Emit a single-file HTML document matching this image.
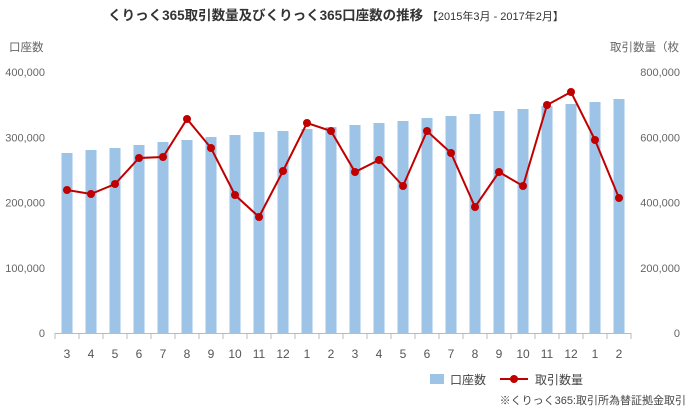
<!DOCTYPE html>
<html><head><meta charset="utf-8"><style>
body{margin:0;background:#fff;}
svg{display:block;font-family:"Liberation Sans","Noto Sans CJK JP",sans-serif;}
</style></head><body>
<svg id="s" width="689" height="411" viewBox="0 0 689 411">
<text x="336" y="20" text-anchor="middle" font-size="13.5" font-weight="bold" fill="#333">くりっく365取引数量及びくりっく365口座数の推移 <tspan font-weight="normal" font-size="11">【2015年3月 - 2017年2月】</tspan></text>
<text x="9" y="51" font-size="11.5" fill="#666">口座数</text>
<text x="610" y="51" font-size="11.5" fill="#666">取引数量（枚</text>
<g id="g"></g>
<rect x="430" y="374" width="14" height="10" fill="#9dc3e6"/>
<text x="450" y="384" font-size="12" fill="#444">口座数</text>
<line x1="500" y1="379" x2="528" y2="379" stroke="#c00000" stroke-width="2"/>
<circle cx="514" cy="379" r="4" fill="#c00000"/>
<text x="535" y="384" font-size="12" fill="#444">取引数量</text>
<text x="686" y="404" text-anchor="end" font-size="11" fill="#444">※くりっく365:取引所為替証拠金取引</text>
</svg>
<script>
var g=document.getElementById('g'),h='';
var labs=['0','100,000','200,000','300,000','400,000'],rl=['0','200,000','400,000','600,000','800,000'];
for(var i=0;i<5;i++){var y=333-i*65.25;
h+='<text x="45" y="'+(y+4)+'" text-anchor="end" font-size="11" fill="#666">'+labs[i]+'</text>';
h+='<text x="680" y="'+(y+4)+'" text-anchor="end" font-size="11" fill="#666">'+rl[i]+'</text>';}
var bt=[153,150,148,145,142,140,137,135,132,131,129,127,125,123,121,118,116,114,111,109,106,104,102,99];
var ly=[190,194,184,158,157,119,148,195,217,171,123,131,172,160,186,131,153,207,172,186,105,92,140,198];
var xl=[3,4,5,6,7,8,9,10,11,12,1,2,3,4,5,6,7,8,9,10,11,12,1,2];
var pts=[];
for(var i=0;i<24;i++){var x=67+i*24;
h+='<rect x="'+(x-5.5)+'" y="'+bt[i]+'" width="11" height="'+(333-bt[i])+'" fill="#9dc3e6"/>';
h+='<text x="'+x+'" y="358" text-anchor="middle" font-size="12" fill="#555">'+xl[i]+'</text>';
pts.push(x+','+ly[i]);}
h+='<line x1="55" y1="333.5" x2="631" y2="333.5" stroke="#bbb"/>';
for(var i=0;i<=24;i++){var x=55+i*24;h+='<line x1="'+x+'" y1="333" x2="'+x+'" y2="339" stroke="#bbb"/>';}
h+='<polyline points="'+pts.join(' ')+'" fill="none" stroke="#c00000" stroke-width="2"/>';
for(var i=0;i<24;i++)h+='<circle cx="'+(67+i*24)+'" cy="'+ly[i]+'" r="4" fill="#c00000"/>';
g.innerHTML=h;
</script>
</body></html>
